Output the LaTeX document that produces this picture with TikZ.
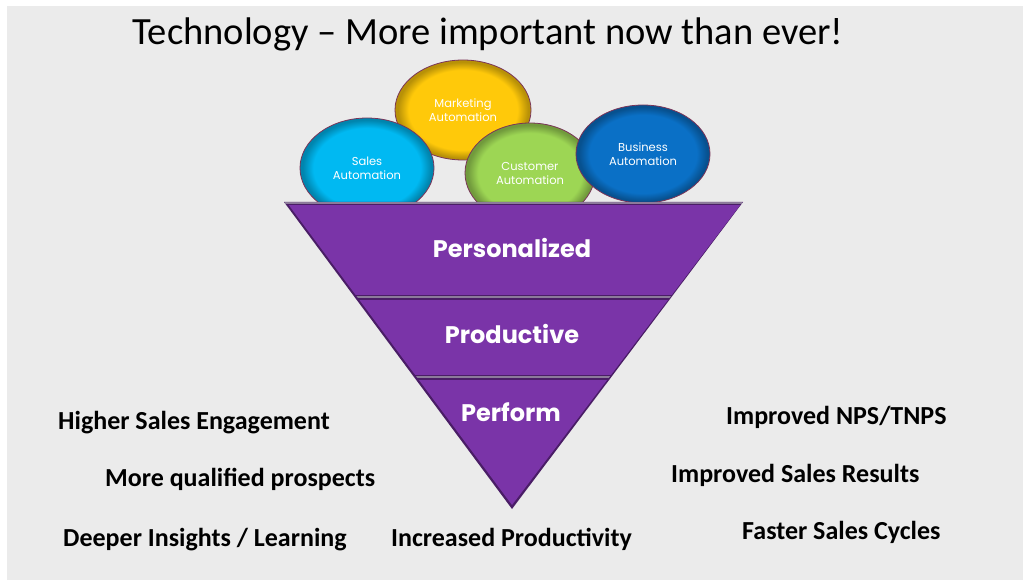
\documentclass[tikz,border=0pt]{standalone}
\usepackage{fontspec}
\setmainfont{Carlito}
\newfontfamily\geo{Poppins}
\usetikzlibrary{shapes.geometric}

\definecolor{bgc}{HTML}{EBEBEB}
\definecolor{funnelc}{HTML}{7A34A8}
\definecolor{funneldark}{HTML}{4A1D66}
\definecolor{sepc}{HTML}{8C7A9A}
\definecolor{salesc}{HTML}{00B9F2}
\definecolor{marketc}{HTML}{FFC90A}
\definecolor{custc}{HTML}{9DD654}
\definecolor{busc}{HTML}{0A70C6}
\definecolor{rimc}{HTML}{7A3458}

% flat centre with a darker bevelled rim
\colorlet{bubA}{salesc}
\colorlet{bubB}{salesc!70!black}
\pgfdeclareradialshading[bubA,bubB]{bevel}{\pgfpoint{0bp}{0bp}}{%
  color(0bp)=(bubA); color(20bp)=(bubA); color(24bp)=(bubB); color(25bp)=(bubB); color(50bp)=(bubB)}

\begin{document}
\begin{tikzpicture}[x=1pt,y=-1pt,
  bubble/.style={ellipse, shade, shading=bevel, draw=rimc, line width=0.8pt,
    inner sep=0pt, align=center, text=white,
    font=\geo\fontsize{11.5}{14}\selectfont},
  ftext/.style={text=white, font=\geo\bfseries\fontsize{24}{28}\selectfont},
  lbl/.style={anchor=base west, text=black, inner sep=0pt,
    font=\bfseries\fontsize{26}{30}\selectfont}]

\useasboundingbox (0,0) rectangle (1023,580);
\fill[white] (0,0) rectangle (1023,580);
\fill[bgc] (7,6) rectangle (1023,580);

% title
\node[anchor=base, font=\fontsize{38.5}{44}\selectfont] (title) at (488,45)
  {Technology -- More important now than ever!};

% automation bubbles, back to front
\colorlet{bubA}{marketc}\colorlet{bubB}{marketc!72!black}
\node[bubble, minimum width=136, minimum height=100] (market) at (463,110)
  {Marketing\\Automation};
\colorlet{bubA}{salesc}\colorlet{bubB}{salesc!72!black}
\node[bubble, minimum width=134, minimum height=100] (sales) at (367,168)
  {Sales\\Automation};
\colorlet{bubA}{custc}\colorlet{bubB}{custc!72!black}
\node[bubble, minimum width=130, minimum height=100] (cust) at (530,173)
  {Customer\\Automation};
\colorlet{bubA}{busc}\colorlet{bubB}{busc!72!black}
\node[bubble, minimum width=134, minimum height=98] (bus) at (643,154)
  {Business\\Automation};

% funnel: dark base, three purple bands
\fill[funneldark] (284,202) -- (743,202) -- (512,509) -- cycle;
\begin{scope}
  \clip (288,204) -- (741,204) -- (512,505) -- cycle;
  \fill[funnelc] (280,205) rectangle (750,295);
  \fill[funnelc] (280,300) rectangle (750,375);
  \fill[funnelc] (280,380) rectangle (750,510);
  \fill[sepc] (280,296) rectangle (750,297.5);
  \fill[sepc] (280,376) rectangle (750,377.5);
\end{scope}
\draw[sepc, line width=1.5pt] (285,203) -- (742,203);

\node[ftext] (pers) at (512,248) {Personalized};
\node[ftext] (prod) at (512,334) {Productive};
\node[ftext] (perf) at (511,412) {Perform};

% outcomes
\node[lbl] (l1) at (58,429) {Higher Sales Engagement};
\node[lbl] (l2) at (105,486) {More qualified prospects};
\node[lbl] (l3) at (63,546) {Deeper Insights / Learning};
\node[lbl] (l4) at (391,546) {Increased Productivity};
\node[lbl] (r1) at (726,424) {Improved NPS/TNPS};
\node[lbl] (r2) at (671,482) {Improved Sales Results};
\node[lbl] (r3) at (742,539) {Faster Sales Cycles};
\end{tikzpicture}
\end{document}
